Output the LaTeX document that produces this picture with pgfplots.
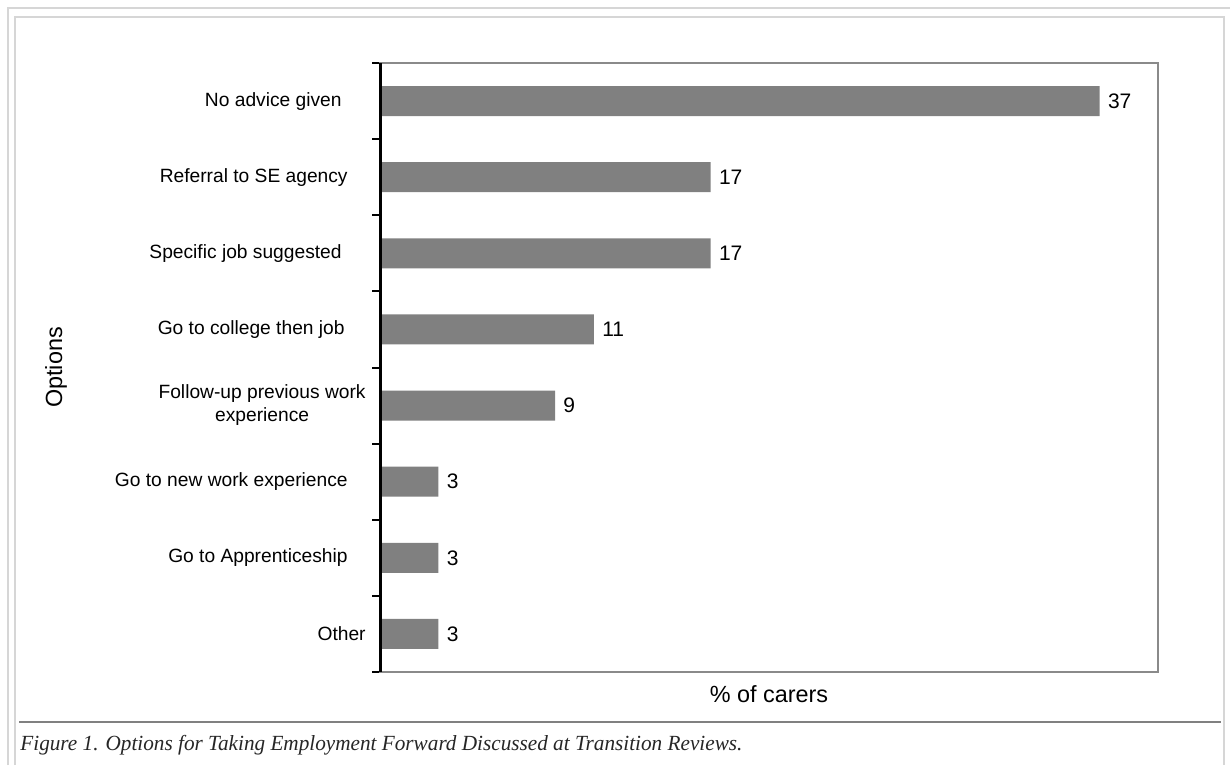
\documentclass[border=0pt]{standalone}
\usepackage{pgfplots}
\pgfplotsset{compat=1.18}
\usepackage{graphicx}
\usepackage{fontspec}
\setmainfont{Liberation Sans}
\newfontfamily\capfont{Liberation Serif}
\definecolor{bargray}{HTML}{808080}
\definecolor{framegray}{HTML}{D6D6D6}
\definecolor{axgray}{HTML}{8A8A8A}
\begin{document}
\begin{tikzpicture}[x=1pt,y=1pt]
\useasboundingbox (0,0) rectangle (615,382.5);
% page frame
\draw[framegray, line width=1pt] (4,0) -- (4,378.5) -- (615,378.5);
\draw[framegray, line width=1pt] (7.5,0) -- (7.5,374) -- (612,374) -- (612,0);
\draw[gray, line width=0.75pt] (9.5,21.5) -- (610.5,21.5);
\begin{axis}[
  at={(190pt,46.5pt)}, anchor=south west,
  width=389pt, height=304.5pt, scale only axis,
  xmin=0, xmax=40, ymin=-0.5, ymax=7.5,
  enlargelimits=false,
  xbar, bar width=15pt,
  clip=false,
  xtick=\empty,
  ytick={0,1,2,3,4,5,6,7},
  yticklabels={Other,
    Go to Apprenticeship\kern9pt,
    Go to new work experience\kern9pt,
    {\begin{tabular}{@{}c@{}}Follow-up previous work\\experience\end{tabular}},
    Go to college then job\kern10.5pt,
    Specific job suggested\kern12pt,
    Referral to SE agency\kern9pt,
    No advice given\kern12pt},
  minor ytick={-0.5,0.5,1.5,2.5,3.5,4.5,5.5,6.5,7.5},
  major tick length=0pt, minor tick length=4pt,
  tick align=outside,
  ytick pos=left,
  minor tick style={black, line width=1pt},
  axis line style={axgray, line width=1pt},
  yticklabel style={anchor=east, inner sep=0pt, xshift=-7pt, font=\fontsize{9.6}{11.5}\selectfont},
  /pgf/number format/assume math mode=true,
  nodes near coords,
  nodes near coords align={horizontal},
  every node near coord/.append style={font=\fontsize{10.5}{12}\selectfont, black, inner sep=0pt, anchor=west, xshift=4pt},
  xlabel={\% of carers},
  xlabel style={at={(axis description cs:0.5,0)}, anchor=north, yshift=-6.5pt, inner sep=0pt, font=\fontsize{11.7}{14}\selectfont},
  ylabel={Options},
  ylabel style={at={([xshift=-162pt]axis description cs:0,0.5)}, anchor=center, inner sep=0pt, font=\fontsize{11.7}{14}\selectfont},
]
\addplot[fill=bargray, draw=none] coordinates {(3,0) (3,1) (3,2) (9,3) (11,4) (17,5) (17,6) (37,7)};
\draw[black, line width=1.5pt] (rel axis cs:0,0) -- (rel axis cs:0,1);
\end{axis}
\node[anchor=base west, inner sep=0pt, text=black!85] at (10,7.5) {\resizebox{361pt}{7.6pt}{\capfont\itshape Figure 1. Options for Taking Employment Forward Discussed at Transition Reviews.}};
\end{tikzpicture}
\end{document}
